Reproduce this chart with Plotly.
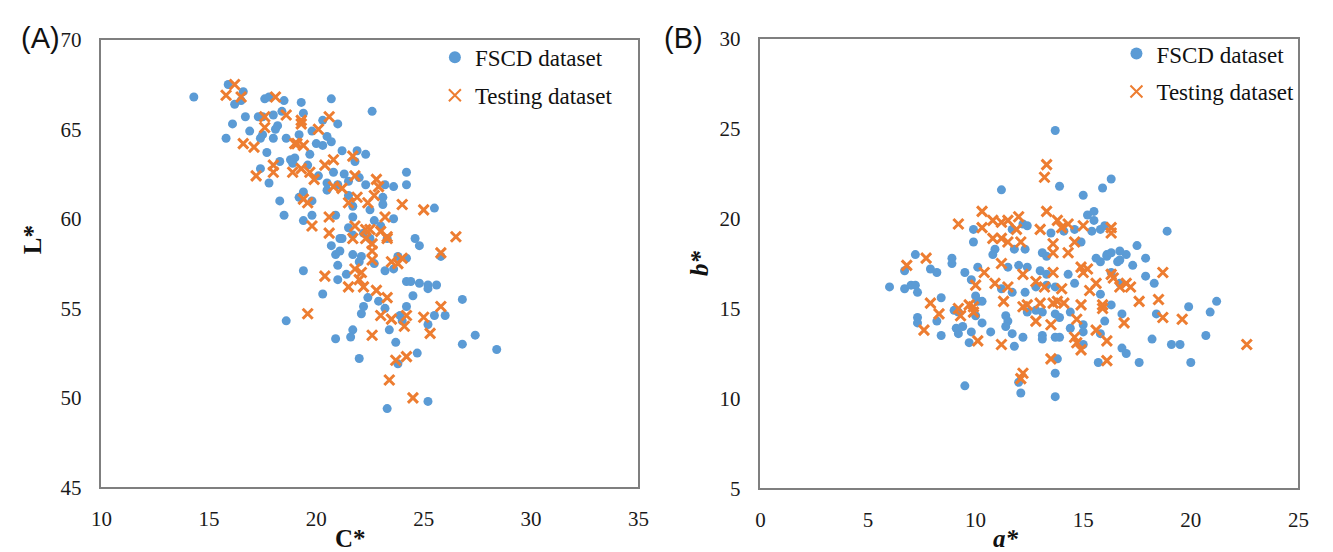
import plotly.graph_objects as go

# ---------------- Panel A : C* vs L* ----------------
a_fscd_C = [14.3, 15.8, 16.1, 16.7, 15.9, 16.2, 16.5, 16.6, 17.6, 17.8, 18.5, 19.3, 17.3, 18.0, 18.4, 18.2,
            18.1, 17.5, 16.9, 17.4, 17.7, 18.0, 18.6, 19.2, 17.4, 17.8, 18.3, 18.8, 19.0, 18.3, 19.2, 20.7,
            22.6, 19.4, 17.5, 19.8, 20.5, 20.7, 20.3, 20.0, 19.7, 21.2, 21.9, 22.3, 21.8, 20.8, 18.9, 19.6,
            20.1, 20.5, 21.0, 21.5, 20.5, 22.3, 23.2, 23.6, 24.2, 24.2, 19.4, 19.8, 18.5, 21.5, 21.7, 23.1,
            23.1, 20.9, 19.8, 19.4, 21.2, 21.7, 23.6, 22.7, 24.6, 21.1, 21.7, 22.5, 23.3, 24.8, 25.8, 20.7,
            20.9, 21.1, 21.7, 22.1, 22.0, 22.7, 23.8, 24.2, 19.4, 21.0, 21.4, 21.0, 23.2, 23.6, 24.2, 24.4,
            24.8, 25.2, 25.6, 25.2, 20.3, 22.4, 22.9, 24.5, 26.8, 24.2, 23.2, 22.2, 22.1, 18.6, 23.9, 24.0,
            25.2, 25.5, 26.0, 23.4, 21.7, 21.6, 20.9, 27.4, 26.8, 23.7, 22.0, 23.8, 24.7, 25.2, 23.3, 28.4,
            25.5, 21.0, 20.3, 21.3, 22.0, 22.5, 23.0, 22.2, 21.5]
a_fscd_L = [66.8, 64.5, 65.3, 65.7, 67.5, 66.4, 66.6, 67.1, 66.7, 66.8, 66.6, 66.5, 65.7, 65.8, 66.0, 65.2,
            65.0, 64.7, 64.9, 64.5, 63.7, 64.5, 64.5, 64.7, 62.8, 62.0, 63.2, 63.3, 63.4, 61.0, 61.2, 66.7,
            66.0, 65.9, 65.7, 64.9, 64.6, 64.3, 64.1, 64.2, 63.6, 63.8, 63.8, 63.6, 63.2, 62.6, 63.1, 63.0,
            62.4, 62.0, 61.9, 62.1, 61.6, 61.9, 61.9, 61.8, 62.6, 61.9, 61.5, 61.0, 60.2, 61.3, 60.7, 61.2,
            60.8, 60.2, 60.2, 59.9, 58.9, 60.1, 60.0, 59.9, 58.9, 58.9, 59.1, 58.9, 58.9, 58.5, 57.9, 58.5,
            58.0, 58.2, 58.0, 57.9, 57.6, 57.5, 57.9, 57.8, 57.1, 57.4, 56.9, 56.6, 57.1, 57.2, 56.5, 56.5,
            56.4, 56.3, 56.3, 56.1, 55.8, 55.6, 55.4, 55.7, 55.5, 55.1, 55.0, 55.1, 54.7, 54.3, 54.6, 54.3,
            54.1, 54.6, 54.6, 53.8, 53.8, 53.4, 53.3, 53.5, 53.0, 53.1, 52.2, 51.9, 52.5, 49.8, 49.4, 52.7,
            60.6, 65.3, 65.5, 62.5, 62.3, 60.5, 59.6, 59.2, 59.5]

a_test_C = [16.2, 15.8, 16.5, 18.1, 17.6, 18.6, 17.6, 19.3, 20.6, 16.6, 17.1, 19.1, 19.3, 17.2, 18.0, 18.0,
            18.9, 19.3, 20.1, 19.0, 19.4, 21.7, 20.8, 20.4, 19.7, 19.9, 20.8, 21.2, 21.8, 22.8, 22.9, 19.6,
            19.4, 21.9, 21.5, 22.4, 22.7, 24.0, 20.6, 19.8, 21.8, 22.3, 23.2, 22.5, 23.0, 23.3, 25.0, 20.6,
            21.7, 22.3, 22.6, 23.3, 26.5, 25.8, 22.6, 22.6, 23.5, 24.0, 23.8, 20.4, 21.8, 22.1, 22.0, 21.5,
            22.2, 22.8, 23.3, 25.8, 19.6, 23.0, 23.5, 24.2, 24.1, 25.0, 25.3, 22.6, 23.7, 24.2, 23.4, 24.5]
a_test_L = [67.5, 66.9, 66.8, 66.8, 65.7, 65.8, 65.1, 65.5, 65.7, 64.2, 64.0, 64.2, 65.3, 62.4, 63.0, 62.6,
            62.6, 62.8, 65.0, 64.2, 64.1, 63.5, 63.3, 63.0, 62.6, 62.2, 61.8, 61.7, 62.4, 62.2, 61.8, 60.9,
            61.1, 61.2, 60.9, 60.9, 61.3, 60.8, 60.1, 59.6, 59.6, 59.4, 60.1, 59.4, 59.3, 59.0, 60.5, 59.2,
            58.9, 58.9, 58.6, 58.9, 59.0, 58.1, 58.2, 57.7, 57.6, 57.8, 57.5, 56.8, 57.2, 57.0, 56.6, 56.2,
            56.2, 56.0, 55.6, 55.1, 54.7, 54.6, 54.4, 54.6, 54.0, 54.5, 53.6, 53.5, 52.1, 52.3, 51.0, 50.0]

# ---------------- Panel B : a* vs b* ----------------
b_fscd_a = [13.7, 13.9, 11.2, 15.0, 15.9, 16.3, 15.2, 15.5, 15.5, 9.9, 11.7, 12.2, 12.4, 13.5, 14.1, 14.6,
            15.4, 15.8, 16.0, 9.9, 10.9, 10.8, 11.8, 12.3, 13.1, 13.3, 14.9, 17.5, 17.9, 17.0, 16.7, 7.2,
            6.7, 8.9, 8.9, 7.9, 8.2, 16.1, 15.8, 17.3, 6.0, 6.7, 7.0, 7.2, 7.3, 8.4, 7.3, 7.3,
            8.2, 8.4, 9.0, 9.2, 9.1, 9.4, 9.8, 9.2, 9.7, 10.1, 10.3, 10.0, 10.3, 10.7, 11.4, 11.5,
            11.4, 11.7, 12.2, 11.8, 12.4, 12.8, 13.1, 13.1, 13.1, 13.7, 13.9, 13.8, 13.7, 12.0, 12.1, 13.7,
            9.5, 13.7, 13.9, 14.4, 14.4, 15.0, 15.0, 15.0, 15.8, 15.8, 16.0, 16.3, 15.7, 16.8, 17.0, 16.8,
            17.6, 18.2, 18.4, 18.3, 17.9, 19.9, 19.1, 19.5, 20.0, 20.7, 20.9, 21.2, 9.5, 9.8, 11.5, 12.0,
            12.4, 13.0, 13.3, 14.3, 14.6, 16.3, 16.7, 16.6, 13.7, 13.3, 12.8, 12.3, 11.2, 11.7, 10.1, 10.0,
            15.6, 16.1, 16.3, 16.7, 18.9]
b_fscd_b = [24.9, 21.8, 21.6, 21.3, 21.7, 22.2, 20.2, 20.4, 19.9, 19.4, 19.4, 19.7, 19.6, 19.2, 19.3, 19.4,
            19.3, 19.4, 19.6, 18.7, 18.3, 18.0, 18.3, 18.3, 18.1, 17.9, 18.7, 18.5, 17.8, 18.0, 17.7, 18.0,
            17.1, 17.8, 17.5, 17.2, 17.0, 18.0, 17.6, 17.4, 16.2, 16.1, 16.3, 16.3, 15.9, 15.6, 14.5, 14.2,
            14.3, 13.5, 14.9, 14.8, 13.9, 14.0, 13.7, 13.6, 13.1, 15.4, 15.4, 14.6, 14.2, 13.7, 14.6, 14.3,
            14.0, 13.6, 13.4, 12.9, 14.8, 14.9, 14.8, 13.5, 13.3, 13.4, 13.4, 12.2, 11.4, 10.9, 10.3, 10.1,
            10.7, 14.7, 14.5, 14.8, 13.9, 14.1, 13.7, 13.0, 13.6, 15.8, 14.3, 15.2, 12.0, 12.8, 12.5, 14.7,
            12.0, 13.3, 14.7, 16.4, 16.8, 15.1, 13.0, 13.0, 12.0, 13.5, 14.8, 15.4, 17.0, 16.6, 17.3, 17.4,
            17.3, 17.1, 16.9, 16.9, 16.4, 17.0, 16.4, 17.6, 16.2, 16.3, 16.2, 15.9, 16.1, 15.9, 17.3, 15.7,
            17.8, 17.9, 18.1, 18.2, 19.3]

b_test_a = [13.3, 13.2, 10.3, 13.3, 9.2, 10.3, 10.8, 11.2, 11.5, 12.0, 10.8, 11.2, 11.5, 12.1, 11.9, 13.0,
            13.8, 14.0, 14.3, 15.0, 16.3, 16.3, 13.6, 13.6, 14.3, 14.6, 7.7, 6.8, 15.0, 15.2, 14.9, 16.3,
            7.9, 8.3, 7.6, 9.2, 9.7, 9.9, 9.9, 9.3, 10.1, 11.2, 12.8, 12.2, 12.4, 13.0, 13.6, 13.8,
            14.1, 13.5, 13.5, 12.2, 12.1, 14.7, 14.6, 14.9, 14.7, 14.9, 15.6, 15.9, 15.9, 16.1, 16.1, 16.9,
            17.6, 18.5, 18.7, 18.7, 19.6, 22.6, 12.2, 12.8, 13.2, 10.0, 10.9, 11.5, 10.4, 11.2, 13.6, 14.0,
            15.3, 15.6, 16.4, 16.7, 17.0, 17.2, 11.3]
b_test_b = [23.0, 22.3, 20.4, 20.4, 19.7, 19.5, 19.9, 19.8, 19.9, 20.1, 18.9, 18.9, 18.7, 18.7, 19.4, 19.4,
            19.9, 19.5, 19.7, 19.6, 19.5, 19.2, 18.6, 18.1, 18.1, 18.7, 17.8, 17.4, 17.0, 17.2, 17.3, 16.9,
            15.3, 14.7, 13.8, 15.0, 15.2, 15.1, 14.8, 14.6, 13.2, 13.0, 14.3, 15.1, 15.2, 15.3, 15.3, 15.4,
            15.3, 14.1, 12.2, 11.4, 11.1, 14.4, 13.4, 15.2, 13.1, 12.7, 13.8, 15.2, 15.0, 13.2, 12.1, 14.2,
            15.4, 15.5, 14.5, 17.0, 14.4, 13.0, 16.9, 16.5, 16.2, 16.3, 16.4, 16.2, 17.0, 17.5, 17.0, 16.1,
            16.0, 16.4, 16.7, 16.2, 16.4, 16.2, 15.4]

x_ticks_A = [10, 15, 20, 25, 30, 35]
y_ticks_A = [45, 50, 55, 60, 65, 70]
x_ticks_B = [0, 5, 10, 15, 20, 25]
y_ticks_B = [5, 10, 15, 20, 25, 30]

BLUE = "#5B9BD5"
ORANGE = "#ED7D31"
SERIF = "Liberation Serif"
SANS = "Liberation Sans"
W, H = 1333, 552

fig = go.Figure()

dot = dict(color=BLUE, size=9, symbol="circle", line=dict(width=0))
cross = dict(color=ORANGE, size=10, symbol="x-thin", line=dict(width=3, color=ORANGE))

fig.add_trace(go.Scatter(x=a_fscd_C, y=a_fscd_L, mode="markers", marker=dot, name="FSCD dataset",
                         xaxis="x", yaxis="y", legend="legend", legendgroup="a1"))
fig.add_trace(go.Scatter(x=a_test_C, y=a_test_L, mode="markers", marker=cross, name="Testing dataset",
                         xaxis="x", yaxis="y", legend="legend", legendgroup="a2"))
fig.add_trace(go.Scatter(x=b_fscd_a, y=b_fscd_b, mode="markers", marker=dot, name="FSCD dataset",
                         xaxis="x2", yaxis="y2", legend="legend2", legendgroup="b1"))
fig.add_trace(go.Scatter(x=b_test_a, y=b_test_b, mode="markers", marker=cross, name="Testing dataset",
                         xaxis="x2", yaxis="y2", legend="legend2", legendgroup="b2"))


def px_x(p):
    return p / W


def px_y(p):
    return 1 - p / H


axis_common = dict(showgrid=False, zeroline=False, showline=True, mirror=True, linecolor="#7f7f7f",
                   linewidth=1.6, ticks="", tickfont=dict(family=SERIF, size=21, color="#1a1a1a"))

legend_common = dict(xanchor="left", yanchor="top", bgcolor="rgba(0,0,0,0)",
                     font=dict(family=SERIF, size=23, color="#111"), traceorder="grouped",
                     tracegroupgap=5, itemsizing="constant")

fig.update_layout(
    width=W, height=H,
    margin=dict(l=0, r=0, t=0, b=0),
    paper_bgcolor="white", plot_bgcolor="white",
    xaxis=dict(domain=[px_x(92), px_x(638)], range=[10, 35], tickvals=x_ticks_A, anchor="y",
               ticklabelstandoff=12, **axis_common),
    yaxis=dict(domain=[px_y(497), px_y(29)], range=[45, 70], tickvals=y_ticks_A, anchor="x",
               ticklabelstandoff=14, **axis_common),
    xaxis2=dict(domain=[px_x(762), px_x(1309)], range=[0, 25], tickvals=x_ticks_B, anchor="y2",
                ticklabelstandoff=12, **axis_common),
    yaxis2=dict(domain=[px_y(498), px_y(28)], range=[5, 30], tickvals=y_ticks_B, anchor="x2",
                ticklabelstandoff=14, **axis_common),
    legend=dict(x=px_x(431), y=px_y(25), **legend_common),
    legend2=dict(x=px_x(1124), y=px_y(21), **legend_common),
    showlegend=True,
)

annos = [
    dict(text="(A)", x=px_x(52), y=px_y(27), xanchor="right", yanchor="middle",
         font=dict(family=SANS, size=29, color="#111")),
    dict(text="(B)", x=px_x(706), y=px_y(27), xanchor="right", yanchor="middle",
         font=dict(family=SANS, size=29, color="#111")),
    dict(text="<b>C*</b>", x=px_x(345), y=px_y(550), xanchor="center", yanchor="middle",
         font=dict(family=SERIF, size=25, color="#111")),
    dict(text="<b><i>a*</i></b>", x=px_x(1012), y=px_y(550), xanchor="center", yanchor="middle",
         font=dict(family=SERIF, size=25, color="#111")),
    dict(text="<b>L*</b>", x=px_x(22), y=px_y(238), xanchor="center", yanchor="middle", textangle=-90,
         font=dict(family=SERIF, size=25, color="#111")),
    dict(text="<b><i>b*</i></b>", x=px_x(700), y=px_y(262), xanchor="center", yanchor="middle",
         textangle=-90, font=dict(family=SERIF, size=25, color="#111")),
]
for a in annos:
    a.update(xref="paper", yref="paper", showarrow=False)
fig.update_layout(annotations=annos)

fig.write_html("out.html")
